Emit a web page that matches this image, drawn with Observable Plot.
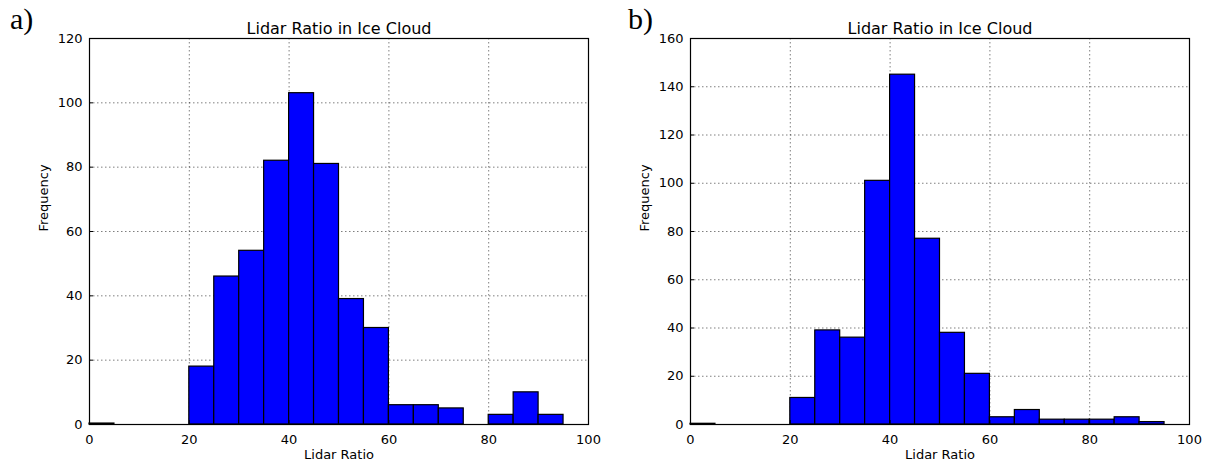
<!DOCTYPE html>
<html>
<head>
<meta charset="utf-8">
<script src="https://cdn.jsdelivr.net/npm/d3@7"></script>
<script src="https://cdn.jsdelivr.net/npm/@observablehq/plot@0.6"></script>
<style>
  html, body { margin: 0; padding: 0; background: #fff; }
  #wrap { position: relative; width: 1214px; height: 463px; display: flex; }
  .panel { position: relative; width: 607px; height: 463px; }
  .tag { position: absolute; font-family: "Liberation Serif", "DejaVu Serif", serif; font-size: 30px; color: #000; }
  svg text { font-family: "DejaVu Sans", sans-serif; }
</style>
</head>
<body>
<div id="wrap">
  <div class="panel" id="pa"><div class="tag" style="left:10px; top:2px;">a)</div></div>
  <div class="panel" id="pb"><div class="tag" style="left:21px; top:2px;">b)</div></div>
</div>
<script>
// Histogram bins: 5-unit wide lidar-ratio bins starting at these edges
const binStarts = [0, 5, 10, 15, 20, 25, 30, 35, 40, 45, 50, 55, 60, 65, 70, 75, 80, 85, 90];
const binWidth = 5;

// Counts per bin for each panel
const countsA = [0.3, 0, 0, 0, 18, 46, 54, 82, 103, 81, 39, 30, 6, 6, 5, 0, 3, 10, 3];
const countsB = [0.3, 0, 0, 0, 11, 39, 36, 101, 145, 77, 38, 21, 3, 6, 2, 2, 2, 3, 1];

const xTicks = [0, 20, 40, 60, 80, 100];
const yTicksA = [0, 20, 40, 60, 80, 100, 120];
const yTicksB = [0, 20, 40, 60, 80, 100, 120, 140, 160];

const titleText = "Lidar Ratio in Ice Cloud";
const xLabel = "Lidar Ratio";
const yLabel = "Frequency";

function histogram(counts, yTicks, marginLeft, marginRight) {
  const rows = binStarts.map((x0, i) => ({x1: x0, x2: x0 + binWidth, y: counts[i]}));
  const yMax = yTicks[yTicks.length - 1];
  return Plot.plot({
    width: 607,
    height: 463,
    marginLeft,
    marginRight,
    marginTop: 38,
    marginBottom: 39,
    style: {fontFamily: "DejaVu Sans, sans-serif", fontSize: "13px", color: "#000", background: "#fff"},
    x: {domain: [0, 100], ticks: xTicks},
    y: {domain: [0, yMax], ticks: yTicks},
    marks: [
      Plot.gridX(xTicks, {stroke: "#000", strokeOpacity: 0.5, strokeDasharray: "1.5,2.5", strokeWidth: 1}),
      Plot.gridY(yTicks, {stroke: "#000", strokeOpacity: 0.5, strokeDasharray: "1.5,2.5", strokeWidth: 1}),
      Plot.rectY(rows, {x1: "x1", x2: "x2", y: "y", fill: "#0000ff", stroke: "#000", strokeWidth: 1.2}),
      Plot.frame({stroke: "#000", strokeWidth: 1.2}),
      Plot.axisX(xTicks, {tickSize: -4, tickPadding: 14, fontSize: 13, label: null}),
      Plot.axisY(yTicks, {tickSize: -4, tickPadding: 11, fontSize: 13, label: null}),
      Plot.text([titleText], {frameAnchor: "top", dy: -5, fontSize: 16, textAnchor: "middle", lineAnchor: "bottom"}),
      Plot.text([xLabel], {frameAnchor: "bottom", dy: 34, fontSize: 13, lineAnchor: "bottom"}),
      Plot.text([yLabel], {frameAnchor: "left", dx: -46, rotate: -90, fontSize: 13})
    ]
  });
}

document.getElementById("pa").appendChild(histogram(countsA, yTicksA, 89, 19));
document.getElementById("pb").appendChild(histogram(countsB, yTicksB, 83, 25));
</script>
</body>
</html>
